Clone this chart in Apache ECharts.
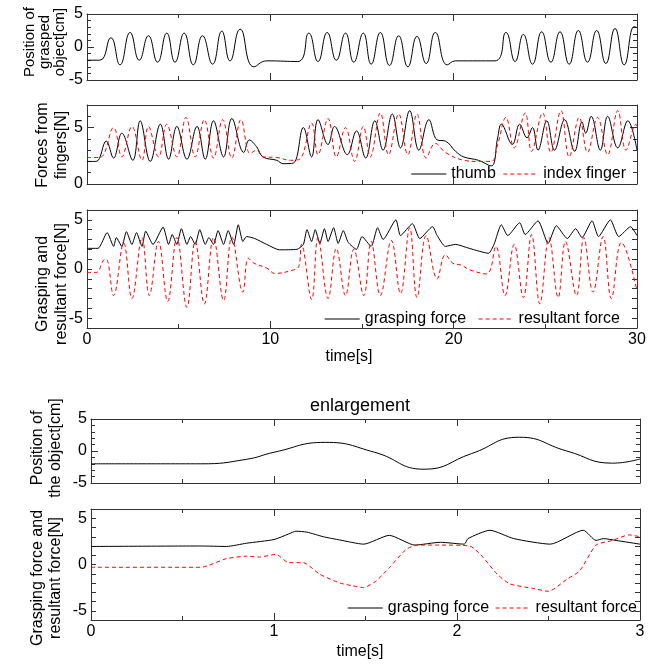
<!DOCTYPE html>
<html>
<head>
<meta charset="utf-8">
<script src="https://cdn.jsdelivr.net/npm/echarts@6/dist/echarts.min.js"></script>
<style>
  html, body { margin: 0; padding: 0; background: #fff; }
  #chart { width: 670px; height: 666px; }
</style>
</head>
<body>
<div id="chart"></div>
<script>
// ---------------- data (time [s], value) ----------------
// panel 1: position of grasped object [cm]
const posT = [0, 0.7, 1.3, 1.8, 2.35, 2.85, 3.35, 3.85, 4.35, 4.8, 5.3, 5.8, 6.3, 6.85, 7.35, 7.8, 8.35, 9.1, 9.8, 11.5,
  12.1, 12.6, 13.1, 13.6, 14.1, 14.55, 15.07, 15.5, 16.0, 16.5, 17.0, 17.5, 18.0, 18.5, 19.0, 19.65, 20.1, 22.25,
  22.85, 23.35, 23.8, 24.3, 24.8, 25.3, 25.8, 26.3, 26.8, 27.3, 27.8, 28.3, 28.8, 29.3, 29.85, 30];
const posV = [-2.0, -2.0, 1.4, -2.7, 2.2, -2.0, 1.7, -2.3, 2.1, -2.3, 2.1, -2.7, 1.7, -2.6, 2.4, -2.1, 2.7, -3.0, -2.1, -2.2,
  2.1, -2.2, 2.2, -2.0, 2.1, -2.3, 2.1, -2.6, 2.2, -2.8, 1.7, -3.0, 1.6, -2.5, 2.2, -2.7, -2.1, -2.1,
  2.2, -2.2, 1.9, -2.6, 2.3, -2.3, 2.3, -2.6, 2.5, -2.3, 2.5, -2.5, 2.8, -2.7, 3.1, 2.9];

// panel 2: forces from fingers [N]
const thumbT = [0, 0.5, 1.05, 1.45, 1.9, 2.5, 2.9, 3.45, 4.0, 4.45, 4.9, 5.45, 6.0, 6.45, 6.9, 7.45, 7.9, 8.55, 8.85, 9.25,
  9.6, 10.35, 10.7, 11.25, 11.8, 12.25, 12.6, 13.15, 13.5, 14.2, 14.7, 15.2, 15.7, 16.15, 16.65, 17.1, 17.6, 18.1,
  18.65, 19.1, 19.55, 20.1, 20.55, 21.35, 22.05, 22.4, 22.6, 23.2, 23.6, 24.0, 24.3, 24.6, 25.08, 25.5, 26.05, 26.6,
  27.0, 27.2, 27.5, 28.0, 28.4, 28.95, 29.5, 30];
const thumbV = [2.0, 2.0, 3.8, 2.3, 4.5, 2.1, 5.6, 2.0, 5.3, 2.2, 5.1, 2.2, 5.1, 2.2, 5.6, 2.4, 5.8, 2.8, 3.9, 3.3,
  2.4, 2.1, 1.8, 1.85, 5.0, 2.4, 5.7, 3.5, 5.1, 2.6, 4.7, 2.3, 5.6, 3.0, 6.2, 3.2, 6.5, 3.0,
  5.7, 3.9, 3.8, 2.9, 2.4, 2.1, 1.6, 4.1, 5.3, 3.5, 5.3, 4.1, 5.0, 3.0, 5.6, 3.0, 5.7, 2.9,
  5.5, 4.5, 6.0, 3.0, 6.0, 3.2, 5.6, 3.0];
const indexT = [0, 0.7, 1.45, 1.9, 2.45, 3.0, 3.35, 3.9, 4.35, 4.9, 5.4, 5.9, 6.4, 6.9, 7.4, 7.9, 8.4, 8.9, 9.25, 9.6,
  10.35, 11.1, 11.6, 12.25, 12.6, 13.15, 13.6, 14.1, 14.6, 15.07, 15.45, 16.0, 16.45, 17.0, 17.5, 18.0, 18.5, 19.0,
  19.55, 20.55, 21.35, 22.05, 22.4, 22.85, 23.3, 23.9, 24.25, 24.85, 25.3, 25.85, 26.3, 26.85, 27.3, 27.85, 28.4,
  28.95, 29.4, 29.95, 30];
const indexV = [2.35, 2.35, 5.0, 2.4, 5.1, 2.1, 5.1, 2.4, 5.3, 2.4, 5.9, 2.4, 5.7, 2.3, 5.7, 2.3, 5.7, 2.7, 3.0, 2.4,
  2.35, 2.1, 2.2, 5.4, 2.6, 5.8, 2.4, 5.0, 2.0, 5.1, 2.4, 6.3, 2.6, 6.2, 2.6, 6.2, 2.3, 3.6,
  2.8, 2.1, 2.0, 2.0, 3.5, 5.9, 3.2, 6.3, 2.9, 6.3, 2.8, 6.5, 2.4, 5.9, 2.8, 5.9, 2.6,
  6.5, 3.0, 5.3, 5.0];

// panel 3: grasping and resultant force [N]
const graspT = [0, 0.6, 1.1, 1.45, 1.6, 1.9, 2.15, 2.45, 2.7, 3.0, 3.2, 3.6, 4.15, 4.45, 4.65, 4.9, 5.15, 5.45, 5.65, 5.9,
  6.15, 6.45, 6.65, 6.9, 7.15, 7.45, 7.7, 8.0, 8.25, 8.5, 8.7, 9.15, 9.8, 10.5, 11.45, 11.8, 12.0, 12.25, 12.45, 12.7,
  12.95, 13.15, 13.45, 13.7, 13.98, 14.25, 14.7, 15.0, 15.5, 15.85, 16.15, 16.85, 17.1, 17.75, 18.15, 18.85, 19.1,
  19.55, 20.1, 20.85, 21.9, 22.2, 22.6, 22.95, 23.6, 23.9, 24.6, 25.15, 25.6, 26.2, 26.65, 27.0, 27.55, 27.9, 28.55,
  29.0, 29.65, 30];
const graspV = [2.1, 2.1, 3.7, 2.3, 3.2, 2.3, 3.8, 2.5, 3.7, 2.3, 3.85, 2.5, 4.25, 2.5, 3.5, 2.5, 4.1, 2.5, 3.3, 2.5,
  4.0, 2.5, 3.2, 2.5, 3.9, 2.5, 3.9, 2.5, 4.5, 2.8, 3.3, 3.1, 2.5, 1.95, 2.0, 2.5, 4.0, 2.8, 4.0, 2.6,
  4.1, 2.8, 4.2, 2.6, 3.9, 2.7, 2.0, 3.3, 2.3, 4.2, 3.0, 5.0, 3.4, 4.6, 3.1, 4.3, 3.4,
  2.3, 2.5, 2.1, 1.6, 2.5, 4.5, 3.4, 4.7, 3.5, 4.9, 2.6, 4.4, 3.1, 4.1, 3.2, 4.9, 3.3, 5.0,
  3.3, 4.3, 3.4];
const resultT = [0, 0.5, 0.9, 1.05, 1.45, 2.0, 2.45, 3.0, 3.4, 3.9, 4.4, 4.9, 5.45, 5.9, 6.4, 6.9, 7.45, 7.9, 8.5, 8.8,
  9.1, 9.8, 10.25, 11.25, 11.55, 11.7, 12.25, 12.6, 13.15, 13.6, 14.1, 14.55, 15.1, 15.5, 16.0, 16.6, 17.1, 17.6,
  18.0, 18.5, 19.1, 19.55, 19.95, 20.4, 20.9, 21.8, 22.3, 22.8, 23.3, 23.8, 24.25, 24.7, 25.2, 25.7, 26.1, 26.7,
  27.1, 27.6, 28.15, 28.6, 29.15, 30];
const resultV = [-0.35, -0.35, 0.9, 1.0, -2.7, 2.65, -3.0, 3.2, -2.7, 2.8, -3.3, 3.2, -3.9, 2.8, -3.55, 3.2, -3.2, 3.25, -2.35, 1.1,
  0.6, 0.1, -0.45, -0.1, 0.25, 2.5, -3.1, 3.2, -3.0, 2.1, -2.7, 2.0, -2.7, 2.8, -2.7, 2.9, -2.5, 4.2,
  -2.9, 3.4, -1.0, 1.45, 0.6, 0.4, -0.1, -0.5, 2.3, -2.7, 2.5, -2.9, 3.5, -3.55, 3.2, -2.9, 2.8, -2.7,
  3.2, -2.35, 3.3, -3.0, 2.7, -2.2];

// panel 4: enlargement, position of the object [cm]
const encPosT = [0, 0.6, 0.85, 1.0, 1.28, 1.55, 1.82, 2.08, 2.34, 2.6, 2.85, 3.0];
const encPosV = [-2.0, -2.0, -1.3, -0.2, 1.35, -0.2, -2.85, -0.4, 2.15, 0.0, -1.9, -1.25];

// panel 5: enlargement, grasping force and resultant force [N]
const encGraspT = [0, 0.6, 0.74, 0.85, 1.0, 1.08, 1.12, 1.18, 1.27, 1.36, 1.49, 1.63, 1.77, 1.91, 2.04, 2.06, 2.18, 2.31,
  2.51, 2.69, 2.76, 2.8, 2.87, 3.0];
const encGraspV = [1.95, 2.0, 1.95, 2.3, 2.7, 3.3, 3.6, 3.5, 3.0, 2.65, 2.2, 3.15, 2.1, 2.4, 2.2, 2.8, 3.7, 2.8,
  2.2, 3.7, 2.6, 2.8, 2.6, 2.2];
const encResT = [0, 0.6, 0.74, 0.85, 0.92, 1.01, 1.08, 1.16, 1.25, 1.36, 1.43, 1.49, 1.56, 1.63, 1.72, 1.78, 1.91, 2.07,
  2.13, 2.22, 2.29, 2.42, 2.5, 2.6, 2.67, 2.76, 2.85, 2.94, 3.0];
const encResV = [-0.3, -0.3, 0.63, 0.9, 0.8, 1.1, 0.2, 0.2, -1.05, -2.0, -2.3, -2.5, -1.75, -0.35, 1.6, 2.1, 2.1, 2.0,
  1.05, -1.05, -2.1, -2.6, -2.9, -1.6, -0.7, 2.1, 2.6, 3.2, 3.0];

// ---------------- layout ----------------
const FONT = '"Liberation Sans", Arial, sans-serif';
const AXIS_COLOR = '#333';
const pair = (ts, vs) => ts.map((t, i) => [t, vs[i]]);

const grids = [
  { left: 87, top: 14, width: 550, height: 66 },
  { left: 87, top: 105, width: 550, height: 79 },
  { left: 87, top: 210, width: 550, height: 118 },
  { left: 91, top: 419, width: 549, height: 64 },
  { left: 91, top: 509, width: 549, height: 111 }
];

function makeX(g, max, interval, position, labels) {
  return {
    type: 'value', gridIndex: g, position: position, min: 0, max: max, interval: interval,
    axisLine: { show: true, onZero: false, lineStyle: { color: AXIS_COLOR, width: 1 } },
    axisTick: { show: true, inside: true, length: 7, lineStyle: { color: AXIS_COLOR } },
    minorTick: { show: true, splitNumber: 2, length: 4, lineStyle: { color: AXIS_COLOR } },
    splitLine: { show: false },
    axisLabel: { show: labels, color: '#000', fontSize: 16, fontFamily: FONT, margin: 4 }
  };
}

function makeY(g, min, max, interval, minorSplit, position, labels) {
  return {
    type: 'value', gridIndex: g, position: position, min: min, max: max, interval: interval,
    axisLine: { show: true, onZero: false, lineStyle: { color: AXIS_COLOR, width: 1 } },
    axisTick: { show: true, inside: true, length: interval === 1 ? 5 : 7, lineStyle: { color: AXIS_COLOR } },
    minorTick: { show: minorSplit > 1, splitNumber: minorSplit || 5, length: 4, lineStyle: { color: AXIS_COLOR } },
    splitLine: { show: false },
    axisLabel: {
      show: labels, color: '#000', fontSize: 16, fontFamily: FONT, margin: 4,
      formatter: v => (v % 5 === 0 ? String(v) : '')
    }
  };
}

const xAxes = [], yAxes = [];
const yRanges = [[-5, 5, 5, 5], [0, 7, 5, 5], [-6, 6, 1, 0], [-5, 5, 5, 5], [-6, 6, 1, 0]];
grids.forEach((gr, g) => {
  const long = g < 3;
  const xMax = long ? 30 : 3, xInt = long ? 10 : 1;
  const showX = g === 2 || g === 4;
  xAxes.push(makeX(g, xMax, xInt, 'bottom', showX));
  xAxes.push(makeX(g, xMax, xInt, 'top', false));
  const r = yRanges[g];
  yAxes.push(makeY(g, r[0], r[1], r[2], r[3], 'left', true));
  yAxes.push(makeY(g, r[0], r[1], r[2], r[3], 'right', false));
});

function line(name, g, data, color, dashed, smooth) {
  return {
    name: name, type: 'line', xAxisIndex: 2 * g, yAxisIndex: 2 * g, data: data,
    symbol: 'none', smooth: smooth, clip: true,
    lineStyle: { color: color, width: 1, type: dashed ? [4, 3] : 'solid' },
    itemStyle: { color: color }
  };
}

const series = [
  line('position', 0, pair(posT, posV), '#000', false, 0.5),
  line('thumb', 1, pair(thumbT, thumbV), '#000', false, 0.4),
  line('index finger', 1, pair(indexT, indexV), '#ff0000', true, 0.4),
  line('grasping force', 2, pair(graspT, graspV), '#000', false, 0.2),
  line('resultant force', 2, pair(resultT, resultV), '#ff0000', true, 0.4),
  line('position ', 3, pair(encPosT, encPosV), '#000', false, 0.5),
  line('grasping force', 4, pair(encGraspT, encGraspV), '#000', false, 0.2),
  line('resultant force', 4, pair(encResT, encResV), '#ff0000', true, 0.2)
];

// legend icon: just the thin line, no marker
function legend(names, right, top, gap) {
  return {
    data: names, right: right, top: top, orient: 'horizontal', padding: 0,
    itemWidth: 35, itemHeight: 14, itemGap: gap, selectedMode: false,
    itemStyle: { opacity: 0 },
    lineStyle: { width: 1 },
    textStyle: { color: '#000', fontSize: 16, fontFamily: FONT }
  };
}

function yName(text, x, y, size, lh) {
  return {
    type: 'text', x: x, y: y, rotation: Math.PI / 2,
    style: { text: text, align: 'center', verticalAlign: 'middle', fill: '#000',
      font: size + 'px ' + FONT, lineHeight: lh }
  };
}

const chart = echarts.init(document.getElementById('chart'), null, { renderer: 'canvas' });
chart.setOption({
  animation: false,
  backgroundColor: '#fff',
  grid: grids,
  xAxis: xAxes,
  yAxis: yAxes,
  legend: [
    legend(['thumb', 'index finger'], 44, 166, 7),
    legend(['grasping force', 'resultant force'], 50, 311, 12),
    legend(['grasping force', 'resultant force'], 33, 600, 6)
  ],
  graphic: [
    yName('Position of\ngrasped\nobject[cm]', 45, 42, 15, 15),
    yName('Forces from\nfingers[N]', 52, 145, 16, 19),
    yName('Grasping and\nresultant force[N]', 52, 284, 16, 19),
    yName('Position of\nthe object[cm]', 47, 448, 16, 18),
    yName('Grasping force and\nresultant force[N]', 47, 578, 16, 18),
    { type: 'text', x: 349, y: 357, style: { text: 'time[s]', align: 'center', verticalAlign: 'middle', fill: '#000', font: '16px ' + FONT } },
    { type: 'text', x: 360, y: 652, style: { text: 'time[s]', align: 'center', verticalAlign: 'middle', fill: '#000', font: '16px ' + FONT } },
    { type: 'text', x: 360, y: 406, style: { text: 'enlargement', align: 'center', verticalAlign: 'middle', fill: '#000', font: '18px ' + FONT } }
  ],
  series: series
});
</script>
</body>
</html>
